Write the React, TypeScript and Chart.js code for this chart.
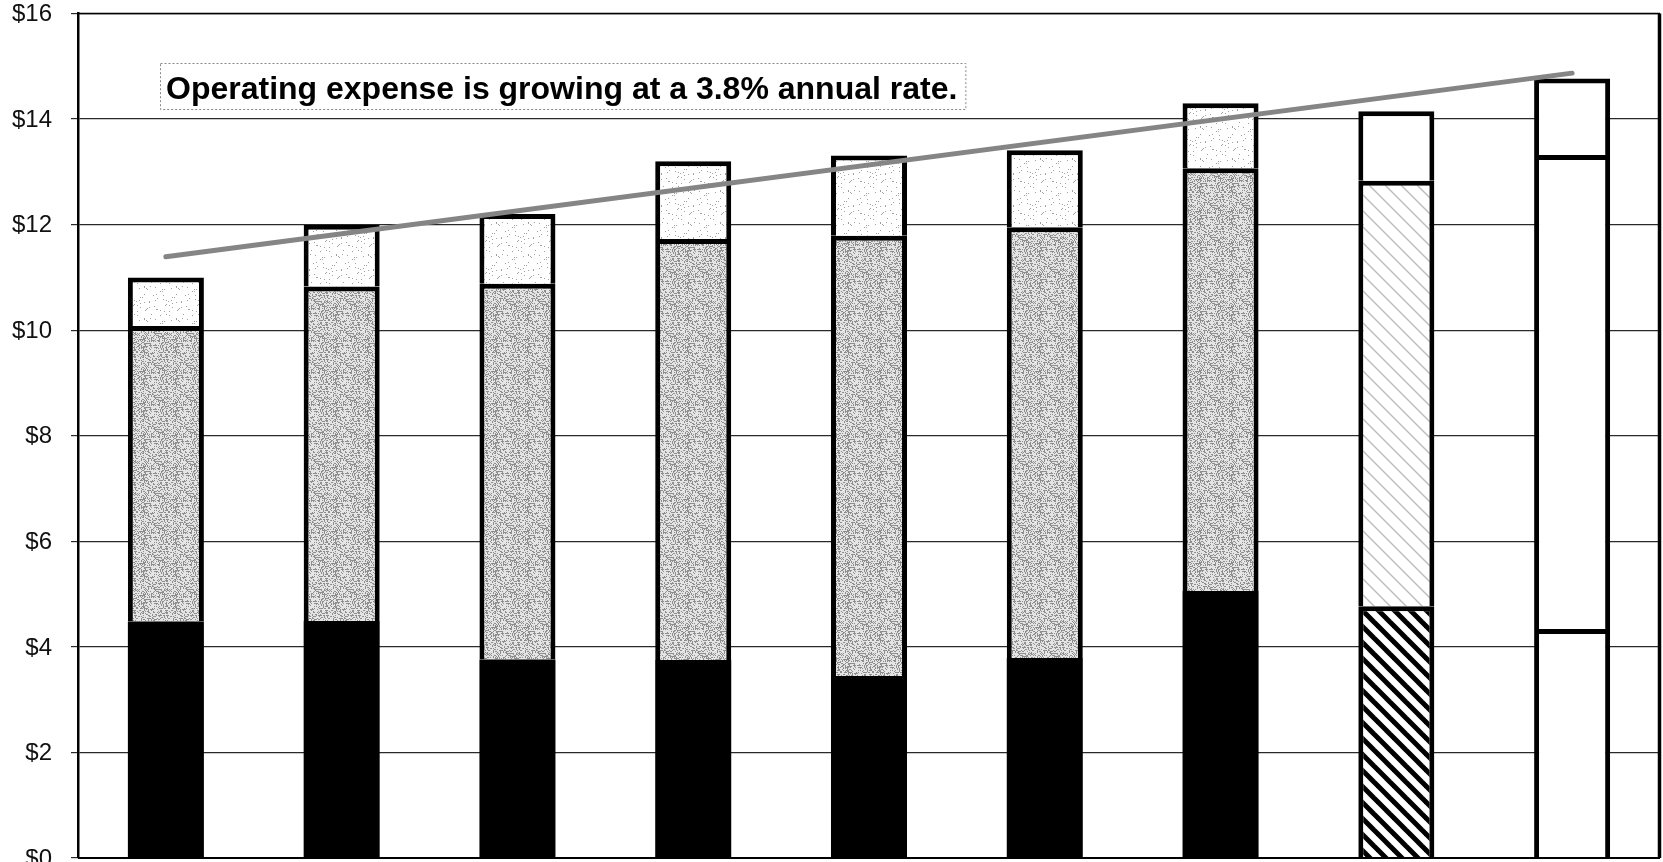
import React, { useEffect, useRef } from 'react';
import { Chart, registerables } from 'chart.js';

Chart.register(...registerables);

// Fiscal periods (axis labels sit below the visible frame)
const periods = ['Yr 1', 'Yr 2', 'Yr 3', 'Yr 4', 'Yr 5', 'Yr 6', 'Yr 7', 'Yr 8', 'Yr 9'];

// Stacked expense components, $ (bottom, middle, top)
const baseCost = [4.48, 4.49, 3.76, 3.75, 3.45, 3.79, 5.06, 4.77, 4.34];
const coreCost = [5.6, 6.34, 7.12, 7.98, 8.34, 8.16, 8.01, 8.06, 8.98];
const otherCost = [0.92, 1.17, 1.32, 1.47, 1.52, 1.46, 1.23, 1.32, 1.45];

// Straight trend line from first to last period
const trendLine = [11.39, null, null, null, null, null, null, null, 14.87];

const yTicks = { min: 0, max: 16, step: 2 };
const headline = 'Operating expense is growing at a 3.8% annual rate.';

const FONT = '"Liberation Sans", Arial, Helvetica, sans-serif';

function hash(x: number, y: number, seed: number): number {
  let n = (Math.imul(x, 374761393) + Math.imul(y, 668265263) + Math.imul(seed, 1442695041)) | 0;
  n = Math.imul(n ^ (n >>> 13), 1274126177);
  n = n ^ (n >>> 16);
  return (n >>> 0) / 4294967296;
}

function stipplePattern(ctx: CanvasRenderingContext2D, dark: string, light: string, density: number, seed: number) {
  const size = 32;
  const c = document.createElement('canvas');
  c.width = size;
  c.height = size;
  const g = c.getContext('2d')!;
  g.fillStyle = light;
  g.fillRect(0, 0, size, size);
  g.fillStyle = dark;
  for (let y = 0; y < size; y++) {
    for (let x = 0; x < size; x++) {
      if (hash(x, y, seed) < density) g.fillRect(x, y, 1, 1);
    }
  }
  return ctx.createPattern(c, 'repeat')!;
}

function hatchPattern(ctx: CanvasRenderingContext2D, color: string, width: number, size: number) {
  const c = document.createElement('canvas');
  c.width = size;
  c.height = size;
  const g = c.getContext('2d')!;
  g.fillStyle = '#ffffff';
  g.fillRect(0, 0, size, size);
  g.strokeStyle = color;
  g.lineWidth = width;
  g.lineCap = 'square';
  for (let n = -1; n <= 1; n++) {
    g.beginPath();
    g.moveTo(n * size, 0);
    g.lineTo((n + 1) * size, size);
    g.stroke();
  }
  return ctx.createPattern(c, 'repeat')!;
}

// Value labels on the left axis, frame lines and the headline box
const framePlugin = {
  id: 'frameAndHeadline',
  afterDraw(chart: any) {
    const { ctx, chartArea } = chart;
    const { left, right, top, bottom } = chartArea;
    const yScale = chart.scales.y;
    ctx.save();

    ctx.font = `24px ${FONT}`;
    ctx.fillStyle = '#111';
    ctx.textAlign = 'right';
    ctx.textBaseline = 'middle';
    yScale.ticks.forEach((t: any) => {
      ctx.fillText('$' + t.value, left - 26, yScale.getPixelForValue(t.value) + 1);
    });

    ctx.strokeStyle = '#000';
    ctx.lineWidth = 1.5;
    ctx.beginPath();
    ctx.moveTo(left, top);
    ctx.lineTo(right, top);
    ctx.stroke();
    ctx.lineWidth = 2.2;
    ctx.beginPath();
    ctx.moveTo(left, bottom);
    ctx.lineTo(right, bottom);
    ctx.stroke();
    ctx.lineWidth = 3.5;
    ctx.beginPath();
    ctx.moveTo(right - 0.5, top);
    ctx.lineTo(right - 0.5, bottom);
    ctx.stroke();

    // headline box
    ctx.font = `bold 32px ${FONT}`;
    const tw = ctx.measureText(headline).width;
    const bx = left + 82;
    const by = 63;
    const bw = tw + 14;
    const bh = 46;
    ctx.fillStyle = '#ffffff';
    ctx.fillRect(bx, by, bw, bh);
    ctx.setLineDash([2, 2]);
    ctx.lineWidth = 1;
    ctx.strokeStyle = '#888';
    ctx.strokeRect(bx + 0.5, by + 0.5, bw, bh);
    ctx.setLineDash([]);
    ctx.fillStyle = '#000';
    ctx.textBaseline = 'alphabetic';
    ctx.textAlign = 'left';
    ctx.fillText(headline, bx + 6, by + 36);
    ctx.restore();
  },
};

export default function App() {
  const canvasRef = useRef<HTMLCanvasElement | null>(null);

  useEffect(() => {
    const canvas = canvasRef.current;
    if (!canvas) return;
    const ctx = canvas.getContext('2d')!;

    const grayStipple = stipplePattern(ctx, '#8e8e8e', '#e4e4e4', 0.36, 7);
    const lightStipple = stipplePattern(ctx, '#a0a0a0', '#ffffff', 0.05, 13);
    const darkHatch = hatchPattern(ctx, '#000000', 5, 16);
    const lightHatch = hatchPattern(ctx, '#bdbdbd', 1.5, 16);

    const baseFill = periods.map((_, i) => (i === 7 ? darkHatch : i === 8 ? '#ffffff' : '#000000'));
    const coreFill = periods.map((_, i) => (i === 7 ? lightHatch : i === 8 ? '#ffffff' : grayStipple));
    const otherFill = periods.map((_, i) => (i >= 7 ? '#ffffff' : lightStipple));
    // solid black segments need no outline
    const baseBorder = periods.map((_, i) => (i >= 7 ? 5 : 0));

    const barStyle = {
      borderColor: '#000000',
      borderWidth: 5,
      borderSkipped: 'start' as const,
      barPercentage: 0.4325,
      categoryPercentage: 1,
      order: 1,
    };

    const chart = new Chart(ctx, {
      type: 'bar',
      data: {
        labels: periods,
        datasets: [
          { label: 'Base', data: baseCost, backgroundColor: baseFill, ...barStyle, borderWidth: baseBorder },
          { label: 'Core', data: coreCost, backgroundColor: coreFill, ...barStyle },
          { label: 'Other', data: otherCost, backgroundColor: otherFill, ...barStyle },
          {
            type: 'line',
            label: 'Trend',
            data: trendLine,
            stack: 'trend',
            borderColor: '#858585',
            borderWidth: 5,
            borderCapStyle: 'round',
            pointRadius: 0,
            spanGaps: true,
            tension: 0,
            order: 0,
          } as any,
        ],
      },
      options: {
        responsive: false,
        animation: false,
        layout: { padding: { top: 13.5, bottom: 22, left: 0, right: 3 } },
        plugins: {
          legend: { display: false },
          tooltip: { enabled: false },
        },
        scales: {
          x: {
            stacked: true,
            display: false,
          },
          y: {
            stacked: true,
            min: yTicks.min,
            max: yTicks.max,
            afterFit: (scale: any) => {
              scale.width = 78;
            },
            ticks: {
              stepSize: yTicks.step,
              display: false,
            },
            grid: {
              color: '#2a2a2a',
              lineWidth: 1.2,
              tickLength: 7,
              drawTicks: true,
            },
            border: { display: true, color: '#000', width: 2.5 },
          },
        },
      },
      plugins: [framePlugin],
    });

    return () => chart.destroy();
  }, []);

  return (
    <div
      style={{
        position: 'fixed',
        left: 0,
        top: 0,
        width: 1663,
        height: 862,
        overflow: 'hidden',
        background: '#ffffff',
      }}
    >
      <canvas ref={canvasRef} width={1663} height={880} style={{ display: 'block' }} />
    </div>
  );
}
